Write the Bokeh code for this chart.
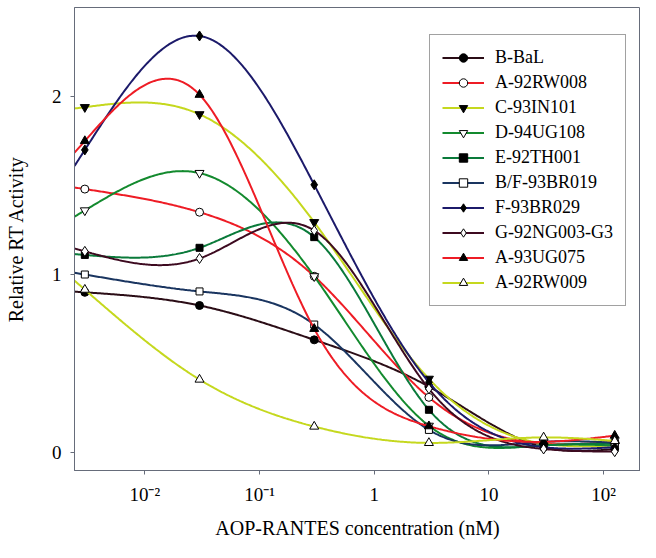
import numpy as np
from bokeh.plotting import figure
from bokeh.models import Legend, LegendItem, FixedTicker, Range1d, ColumnDataSource
from bokeh.embed import file_html
from bokeh.resources import INLINE

# ---- data ----
conc = [0.003, 0.03, 0.3, 3, 30, 125]

series_names = ["B-BaL", "A-92RW008", "C-93IN101", "D-94UG108", "E-92TH001",
                "B/F-93BR019", "F-93BR029", "G-92NG003-G3", "A-93UG075", "A-92RW009"]

b_bal      = [0.90, 0.826, 0.633, 0.37, 0.03, 0.02]
a_92rw008  = [1.48, 1.35, 0.99, 0.31, 0.05, 0.06]
c_93in101  = [1.94, 1.90, 1.294, 0.414, 0.05, 0.04]
d_94ug108  = [1.36, 1.57, 0.99, 0.15, 0.04, 0.04]
e_92th001  = [1.11, 1.15, 1.21, 0.24, 0.04, 0.05]
bf_93br019 = [1.00, 0.905, 0.719, 0.127, 0.06, 0.055]
f_93br029  = [1.70, 2.34, 1.504, 0.395, 0.03, 0.03]
g_92ng003  = [1.13, 1.09, 1.247, 0.358, 0.02, 0.005]
a_93ug075  = [1.75, 2.01, 0.695, 0.148, 0.06, 0.095]
a_92rw009  = [0.915, 0.41, 0.146, 0.054, 0.085, 0.065]

series_values = [b_bal, a_92rw008, c_93in101, d_94ug108, e_92th001,
                 bf_93br019, f_93br029, g_92ng003, a_93ug075, a_92rw009]

x_tick_values = [0.01, 0.1, 1, 10, 100]
x_tick_labels = ["10\u207b\u00b2", "10\u207b\u00b9", "1", "10", "10\u00b2"]
y_tick_values = [0, 1, 2]

# ---- styles ----
line_colors = ["#2b0d16", "#ee1c25", "#c5d81e", "#138a2e", "#0a7a3a",
               "#1a3560", "#1c1a6a", "#3d0a20", "#ee1c25", "#c5d81e"]
markers = ["circle", "circle", "inverted_triangle", "inverted_triangle", "square",
           "square", "diamond", "diamond", "triangle", "triangle"]
fills = ["black", "white", "black", "white", "black",
         "white", "black", "white", "black", "white"]
sizes = [8, 8, 9, 9, 7, 7, 10, 10, 9, 9]

X0, X1 = 0.002438, 209.8
Y0, Y1 = -0.101, 2.5


def natural_spline(xs, ys, xq):
    xs = np.asarray(xs, float)
    ys = np.asarray(ys, float)
    n = len(xs)
    h = np.diff(xs)
    A = np.zeros((n, n))
    r = np.zeros(n)
    A[0, 0] = 1
    A[-1, -1] = 1
    for i in range(1, n - 1):
        A[i, i - 1] = h[i - 1]
        A[i, i] = 2 * (h[i - 1] + h[i])
        A[i, i + 1] = h[i]
        r[i] = 3 * ((ys[i + 1] - ys[i]) / h[i] - (ys[i] - ys[i - 1]) / h[i - 1])
    c = np.linalg.solve(A, r)
    b = np.zeros(n - 1)
    d = np.zeros(n - 1)
    for i in range(n - 1):
        b[i] = (ys[i + 1] - ys[i]) / h[i] - h[i] * (2 * c[i] + c[i + 1]) / 3
        d[i] = (c[i + 1] - c[i]) / (3 * h[i])
    out = []
    for x in xq:
        if x < xs[0]:
            out.append(ys[0] + b[0] * (x - xs[0]))
            continue
        i = min(int(np.searchsorted(xs, x, side="right")) - 1, n - 2)
        dx = x - xs[i]
        out.append(ys[i] + b[i] * dx + c[i] * dx ** 2 + d[i] * dx ** 3)
    return np.array(out)


p = figure(width=640, height=542, x_axis_type="log",
           x_range=Range1d(X0, X1), y_range=Range1d(Y0, Y1),
           output_backend="svg", toolbar_location=None,
           min_border_left=74, min_border_right=0, min_border_top=7, min_border_bottom=72)

p.xgrid.visible = False
p.ygrid.visible = False
p.outline_line_color = "#666c7a"
p.outline_line_width = 1
p.background_fill_color = "white"
p.border_fill_color = "white"

FONT = "Liberation Serif"
axis_col = "#666c7a"

p.xaxis.ticker = FixedTicker(ticks=x_tick_values, minor_ticks=[])
p.xaxis.major_label_overrides = {v: l for v, l in zip(x_tick_values, x_tick_labels)}
p.yaxis.ticker = FixedTicker(ticks=y_tick_values, minor_ticks=[])

for ax in (p.xaxis[0], p.yaxis[0]):
    ax.axis_line_color = axis_col
    ax.major_tick_line_color = axis_col
    ax.minor_tick_line_color = None
    ax.major_tick_in = 0
    ax.major_tick_out = 4
    ax.major_label_text_font = FONT
    ax.major_label_text_font_size = "19px"
    ax.major_label_text_color = "black"
    ax.axis_label_text_font = FONT
    ax.axis_label_text_font_size = "20px"
    ax.axis_label_text_font_style = "normal"
    ax.axis_label_text_color = "black"

p.xaxis.axis_label = "AOP-RANTES concentration (nM)"
p.yaxis.axis_label = "Relative RT Activity"
p.xaxis.major_label_standoff = 9
p.xaxis.axis_label_standoff = 9
p.yaxis.major_label_standoff = 9
p.yaxis.axis_label_standoff = 22

lx = np.log10(conc)
uq = np.linspace(np.log10(X0), lx[-1], 400)

items = []
for name, vals, col, mk, fc, sz in zip(series_names, series_values, line_colors,
                                       markers, fills, sizes):
    yq = natural_spline(lx, vals, uq)
    lsrc = ColumnDataSource(dict(x=10 ** uq, y=yq))
    lr = p.line("x", "y", source=lsrc, line_color=col, line_width=2)
    psrc = ColumnDataSource(dict(x=conc, y=vals))
    sr = p.scatter("x", "y", source=psrc, marker=mk, size=sz,
                   fill_color=fc, line_color="black", line_width=1)
    items.append(LegendItem(label=name, renderers=[lr, sr]))

legend = Legend(items=items, location=(355, 164))
legend.label_text_font = FONT
legend.label_text_font_size = "18px"
legend.label_text_color = "black"
legend.glyph_width = 42
legend.glyph_height = 21
legend.label_height = 21
legend.label_standoff = 11
legend.spacing = 4
legend.padding = 12
legend.margin = 0
legend.border_line_color = "#444444"
legend.border_line_width = 1
legend.background_fill_color = "white"
legend.background_fill_alpha = 1.0
p.add_layout(legend, "center")

open("out.html", "w").write(file_html(p, INLINE))
